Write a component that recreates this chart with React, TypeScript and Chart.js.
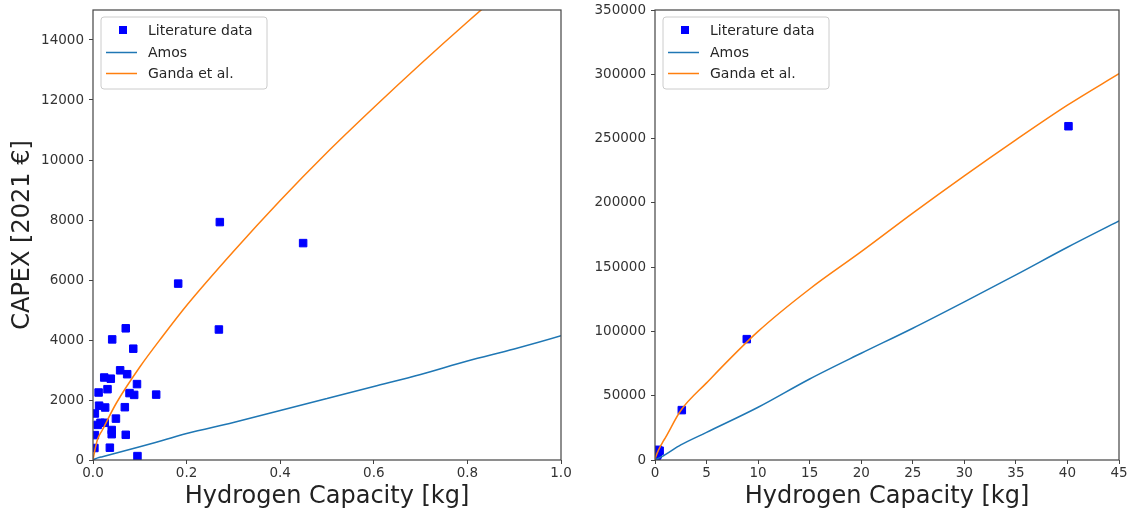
import React, { useEffect, useRef } from 'react';
import { Chart, registerables } from 'chart.js';

Chart.register(...registerables);

// Literature data points (capacity kg, CAPEX 2021 €)
const litX = [0.271, 0.449, 0.182, 0.269, 0.070, 0.041, 0.086, 0.058, 0.073, 0.024, 0.038, 0.031, 0.094, 0.078, 0.088, 0.135, 0.012, 0.013, 0.026, 0.068, 0.004, 0.049, 0.016, 0.025, 0.010, 0.040, 0.040, 0.070, 0.004, 0.036, 0.095, 0.003, 2.6, 8.9, 40.1];
const litY = [7930, 7230, 5880, 4350, 4390, 4020, 3710, 2990, 2860, 2750, 2710, 2360, 2530, 2230, 2170, 2180, 2250, 1810, 1750, 1760, 1550, 1380, 1240, 1240, 1170, 1000, 860, 840, 830, 410, 130, 400, 38800, 94000, 259600];

// Model curves
const modelX = [0, 0.005, 0.01, 0.02, 0.05, 0.1, 0.15, 0.2, 0.3, 0.4, 0.5, 0.6, 0.7, 0.8, 0.9, 1.0, 2.5, 5, 10, 15, 20, 25, 30, 35, 40, 45];
const amosY = [0, 40, 70, 110, 230, 440, 660, 880, 1250, 1650, 2050, 2450, 2850, 3300, 3700, 4140, 11700, 21500, 41000, 63000, 83000, 102500, 123000, 144000, 165500, 186000];
const gandaY = [0, 400, 700, 1000, 1900, 3100, 4150, 5150, 6950, 8650, 10250, 11750, 13200, 14600, 15950, 17250, 38500, 60000, 100000, 133000, 162000, 192000, 221000, 249000, 276000, 300500];

// Tick labels
const leftXTicks = [0, 0.2, 0.4, 0.6, 0.8, 1.0];
const leftYTicks = [0, 2000, 4000, 6000, 8000, 10000, 12000, 14000];
const rightXTicks = [0, 5, 10, 15, 20, 25, 30, 35, 40, 45];
const rightYTicks = [0, 50000, 100000, 150000, 200000, 250000, 300000, 350000];

const seriesLabels = ['Literature data', 'Amos', 'Ganda et al.'];
const colors = { lit: '#0000ff', amos: '#1f77b4', ganda: '#ff7f0e' };

const FONT = 'DejaVu Sans';
const TEXT = '#333333';

const framePlugin = {
  id: 'frame',
  afterDatasetsDraw(chart: any) {
    const { ctx, chartArea: a } = chart;
    ctx.save();
    ctx.strokeStyle = '#444444';
    ctx.lineWidth = 1.2;
    ctx.strokeRect(a.left, a.top, a.right - a.left, a.bottom - a.top);
    ctx.restore();
  },
};

const legendPlugin = {
  id: 'mplLegend',
  afterDraw(chart: any) {
    const { ctx, chartArea: a } = chart;
    const bx = a.left + 8;
    const by = a.top + 7;
    const bw = 166;
    const bh = 72;
    ctx.save();
    ctx.fillStyle = 'rgba(255,255,255,0.8)';
    ctx.strokeStyle = '#cccccc';
    ctx.lineWidth = 1;
    ctx.beginPath();
    const r = 3;
    ctx.moveTo(bx + r, by);
    ctx.lineTo(bx + bw - r, by);
    ctx.arcTo(bx + bw, by, bx + bw, by + r, r);
    ctx.lineTo(bx + bw, by + bh - r);
    ctx.arcTo(bx + bw, by + bh, bx + bw - r, by + bh, r);
    ctx.lineTo(bx + r, by + bh);
    ctx.arcTo(bx, by + bh, bx, by + bh - r, r);
    ctx.lineTo(bx, by + r);
    ctx.arcTo(bx, by, bx + r, by, r);
    ctx.closePath();
    ctx.fill();
    ctx.stroke();
    const rows = [by + 13, by + 35, by + 56];
    const kinds = ['marker', 'line', 'line'];
    const cols = [colors.lit, colors.amos, colors.ganda];
    ctx.font = `14px '${FONT}'`;
    ctx.textBaseline = 'middle';
    ctx.textAlign = 'left';
    for (let i = 0; i < 3; i++) {
      const y = rows[i];
      if (kinds[i] === 'marker') {
        ctx.fillStyle = cols[i];
        ctx.fillRect(bx + 18, y - 4, 8, 8);
      } else {
        ctx.strokeStyle = cols[i];
        ctx.lineWidth = 1.5;
        ctx.beginPath();
        ctx.moveTo(bx + 5, y + 0.5);
        ctx.lineTo(bx + 36, y + 0.5);
        ctx.stroke();
      }
      ctx.fillStyle = '#262626';
      ctx.fillText(seriesLabels[i], bx + 47, y + 1);
    }
    ctx.restore();
  },
};

function pts(xs: number[], ys: number[]) {
  return xs.map((x, i) => ({ x, y: ys[i] }));
}

function makeConfig(o: {
  xMax: number; yMax: number; xTicks: number[]; yTicks: number[];
  xFmt: (v: number) => string; yWidth: number; padRight: number; yTitle: boolean;
}) {
  return {
    type: 'scatter',
    data: {
      datasets: [
        {
          label: seriesLabels[1], type: 'line', data: pts(modelX, amosY),
          borderColor: colors.amos, borderWidth: 1.5, pointRadius: 0, fill: false,
          cubicInterpolationMode: 'monotone', clip: 0, order: 0,
        },
        {
          label: seriesLabels[2], type: 'line', data: pts(modelX, gandaY),
          borderColor: colors.ganda, borderWidth: 1.5, pointRadius: 0, fill: false,
          cubicInterpolationMode: 'monotone', clip: 0, order: 1,
        },
        {
          label: seriesLabels[0], data: pts(litX, litY), pointStyle: 'rect',
          pointRadius: 5.3, backgroundColor: colors.lit, borderColor: colors.lit,
          borderWidth: 1, showLine: false, clip: 0, order: 2,
        },
      ],
    },
    options: {
      animation: false,
      responsive: false,
      maintainAspectRatio: false,
      events: [],
      layout: { padding: { left: 0, right: o.padRight, top: 10, bottom: 0 } },
      plugins: { legend: { display: false }, tooltip: { enabled: false } },
      scales: {
        x: {
          type: 'linear', min: 0, max: o.xMax,
          afterBuildTicks: (s: any) => { s.ticks = o.xTicks.map((v) => ({ value: v })); },
          afterFit: (s: any) => { s.height = 54; },
          ticks: {
            callback: (v: any) => o.xFmt(Number(v)), color: TEXT, padding: 1,
            font: { family: FONT, size: 13.5 }, maxRotation: 0, autoSkip: false,
          },
          grid: { drawOnChartArea: false, drawTicks: true, tickLength: 4, tickColor: '#444444', tickWidth: 1 },
          border: { display: false },
          title: {
            display: true, text: 'Hydrogen Capacity [kg]', color: '#222222',
            font: { family: FONT, size: 24 }, padding: { top: 0, bottom: 3 },
          },
        },
        y: {
          type: 'linear', min: 0, max: o.yMax,
          afterBuildTicks: (s: any) => { s.ticks = o.yTicks.map((v) => ({ value: v })); },
          afterFit: (s: any) => { s.width = o.yWidth; s.paddingTop = 0; s.paddingBottom = 0; },
          ticks: {
            callback: (v: any) => String(Math.round(Number(v))), color: TEXT, padding: 5,
            font: { family: FONT, size: 13.5 }, autoSkip: false,
          },
          grid: { drawOnChartArea: false, drawTicks: true, tickLength: 4, tickColor: '#444444', tickWidth: 1 },
          border: { display: false },
          title: {
            display: o.yTitle, text: 'CAPEX [2021 €]', color: '#222222',
            font: { family: FONT, size: 24 }, padding: { top: 8, bottom: 0 },
          },
        },
      },
    },
    plugins: [framePlugin, legendPlugin],
  };
}

function ChartCanvas(props: { width: number; height: number; config: any }) {
  const ref = useRef<HTMLCanvasElement | null>(null);
  useEffect(() => {
    if (!ref.current) return;
    const chart = new Chart(ref.current, props.config);
    return () => chart.destroy();
  }, []);
  return (
    <canvas
      ref={ref}
      width={props.width}
      height={props.height}
      style={{ display: 'block', width: props.width, height: props.height }}
    />
  );
}

export default function App() {
  const leftCfg = makeConfig({
    xMax: 1.0, yMax: 15000, xTicks: leftXTicks, yTicks: leftYTicks,
    xFmt: (v) => v.toFixed(1), yWidth: 93, padRight: 14, yTitle: true,
  });
  const rightCfg = makeConfig({
    xMax: 45, yMax: 350000, xTicks: rightXTicks, yTicks: rightYTicks,
    xFmt: (v) => String(Math.round(v)), yWidth: 80, padRight: 12, yTitle: false,
  });
  return (
    <div style={{ position: 'absolute', left: 0, top: 0, width: 1131, height: 514, background: '#ffffff' }}>
      <div style={{ position: 'absolute', left: 0, top: 0 }}>
        <ChartCanvas width={575} height={514} config={leftCfg} />
      </div>
      <div style={{ position: 'absolute', left: 575, top: 0 }}>
        <ChartCanvas width={556} height={514} config={rightCfg} />
      </div>
    </div>
  );
}
